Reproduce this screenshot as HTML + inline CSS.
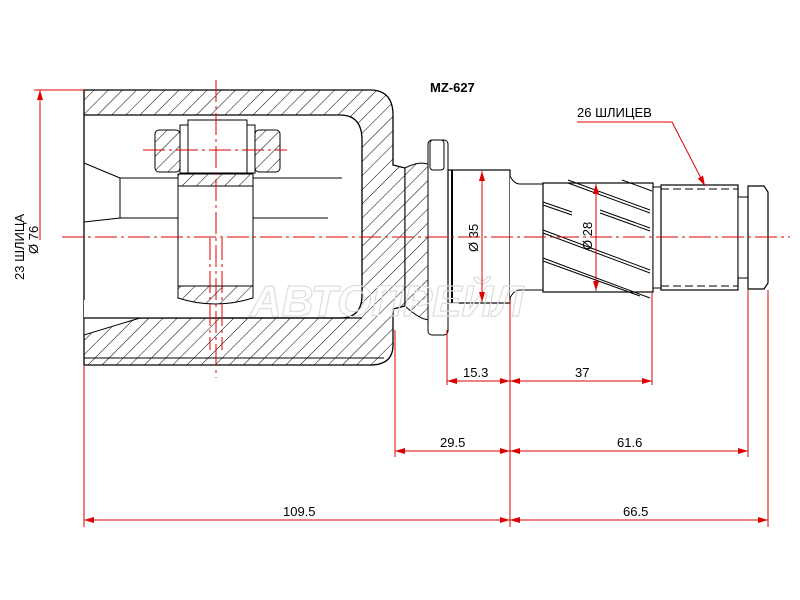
<!DOCTYPE html>
<html><head><meta charset="utf-8"><style>
html,body{margin:0;padding:0;background:#fff;}
svg{display:block;}
text{font-family:"Liberation Sans","DejaVu Sans",sans-serif;}
</style></head><body>
<svg width="800" height="600" viewBox="0 0 800 600" xmlns="http://www.w3.org/2000/svg">
<defs>
<pattern id="h" width="10" height="10" patternUnits="userSpaceOnUse" patternTransform="rotate(45)">
<rect width="10" height="10" fill="#fff"/><line x1="0" y1="0" x2="0" y2="10" stroke="#000" stroke-width="1"/>
</pattern>
<marker id="a" viewBox="0 0 10 6" refX="10" refY="3" markerWidth="10" markerHeight="6" orient="auto-start-reverse" markerUnits="userSpaceOnUse">
<path d="M0,0 L10,3 L0,6 z" fill="#d00"/></marker>
</defs>

<!-- housing -->
<path fill-rule="evenodd" fill="url(#h)" stroke="#000" stroke-width="1.3"
 d="M84,90 L370,90 Q393,90 393,115 L393,165 L405,168 L405,306 L393,309 L393,345 Q393,365 370,365 L84,365 Z
    M84,115 L340,115 Q362,115 362,140 L362,295 Q362,318 340,318 L84,318 Z"/>
<path d="M84,318 L220,318 L220,300 L84,300 Z" fill="#fff" stroke="none"/>
<path d="M84,318 L140,318 L84,335 Z" fill="#fff" stroke="#000" stroke-width="1"/>
<line x1="84" y1="318" x2="362" y2="318" stroke="#000" stroke-width="1.2"/>
<!-- inner funnel -->
<path d="M84,163 L120,178 L120,218 L84,222" fill="none" stroke="#000"/>
<line x1="120" y1="178" x2="342" y2="178" stroke="#000"/>
<line x1="120" y1="218" x2="328" y2="218" stroke="#000"/>
<line x1="84" y1="358" x2="384" y2="358" stroke="#000"/>
<!-- roller -->
<rect x="178" y="174" width="75" height="12" fill="url(#h)" stroke="#000"/>
<rect x="178" y="186" width="75" height="100" fill="#fff" stroke="#000"/>
<path d="M178,286 L253,286 L253,298 Q215,310 178,298 Z" fill="url(#h)" stroke="#000"/>
<rect x="155" y="130" width="25" height="42" rx="4" fill="url(#h)" stroke="#000"/>
<rect x="255" y="130" width="25" height="42" rx="4" fill="url(#h)" stroke="#000"/>
<rect x="180" y="125" width="8" height="48" fill="#fff" stroke="#000"/>
<rect x="247" y="125" width="8" height="48" fill="#fff" stroke="#000"/>
<rect x="188" y="120" width="59" height="53" fill="#fff" stroke="#000"/>
<!-- neck / flange -->
<path d="M405,168 Q420,160 430,165 L430,320 Q420,320 405,306 Z" fill="url(#h)" stroke="#000"/>
<rect x="428" y="140" width="20" height="195" rx="4" fill="#fff" stroke="#000"/>
<rect x="430" y="140" width="14" height="30" rx="3" fill="#fff" stroke="#000"/>
<rect x="448" y="170" width="62" height="133" fill="#fff" stroke="#000" stroke-width="1.2"/>
<line x1="452" y1="170" x2="452" y2="303" stroke="#000" stroke-width="2"/>
<path d="M510,176 Q514,184 520,184 L543,184 L543,290 L520,290 Q514,290 510,298" fill="#fff" stroke="#000"/>
<!-- helical spline -->
<rect x="543" y="183" width="110" height="109" fill="#fff" stroke="#000" stroke-width="1.2"/>
<g stroke="#000" stroke-width="1">
<line x1="568" y1="180" x2="650" y2="210"/><line x1="568" y1="183" x2="650" y2="213"/>
<line x1="543" y1="202" x2="572" y2="212"/><line x1="543" y1="205" x2="572" y2="215"/>
<line x1="543" y1="230" x2="650" y2="270"/><line x1="543" y1="233" x2="650" y2="273"/>
<line x1="543" y1="258" x2="650" y2="298"/><line x1="543" y1="261" x2="640" y2="296"/>
<line x1="600" y1="210" x2="650" y2="228"/><line x1="600" y1="213" x2="650" y2="231"/>
<line x1="622" y1="180" x2="652" y2="191"/>
</g>
<rect x="653" y="187" width="8" height="101" fill="#fff" stroke="#000"/>
<rect x="661" y="185" width="77" height="105" fill="#fff" stroke="#000" stroke-width="1.2"/>
<line x1="661" y1="189" x2="738" y2="189" stroke="#000" stroke-dasharray="8 4"/>
<line x1="661" y1="286" x2="738" y2="286" stroke="#000" stroke-dasharray="8 4"/>
<rect x="738" y="197" width="10" height="81" fill="#fff" stroke="#000"/>
<path d="M748,186 L764,186 L768,192 L768,283 L764,289 L748,289 Z" fill="#fff" stroke="#000" stroke-width="1.2"/>
<!-- watermark -->
<text x="250" y="316" font-size="44" font-style="italic" font-weight="bold" fill="none" stroke="#ddd" stroke-width="1.2">АВТОПРЕЙЛ</text>

<!-- centerlines -->
<g stroke="#d00" stroke-width="1" stroke-dasharray="22 4 3 4" fill="none">
<line x1="62" y1="237" x2="790" y2="237"/>
<line x1="216" y1="80" x2="216" y2="378"/>
<line x1="143" y1="150" x2="287" y2="150"/>
<line x1="210" y1="238" x2="210" y2="350"/>
<line x1="222" y1="238" x2="222" y2="350"/>
</g>
<!-- dimensions -->
<g stroke="#d00" stroke-width="1" fill="none">
<line x1="34" y1="90" x2="84" y2="90"/>
<line x1="40" y1="90" x2="40" y2="240" marker-start="url(#a)"/>
<line x1="84" y1="365" x2="84" y2="527"/>
<line x1="395" y1="330" x2="395" y2="457"/>
<line x1="447" y1="330" x2="447" y2="385"/>
<line x1="510" y1="300" x2="510" y2="527"/>
<line x1="652" y1="292" x2="652" y2="385"/>
<line x1="748" y1="290" x2="748" y2="457"/>
<line x1="768" y1="290" x2="768" y2="527"/>
<line x1="447" y1="381" x2="510" y2="381" marker-start="url(#a)" marker-end="url(#a)"/>
<line x1="510" y1="381" x2="652" y2="381" marker-start="url(#a)" marker-end="url(#a)"/>
<line x1="395" y1="451" x2="510" y2="451" marker-start="url(#a)" marker-end="url(#a)"/>
<line x1="510" y1="451" x2="748" y2="451" marker-start="url(#a)" marker-end="url(#a)"/>
<line x1="84" y1="520" x2="510" y2="520" marker-start="url(#a)" marker-end="url(#a)"/>
<line x1="510" y1="520" x2="768" y2="520" marker-start="url(#a)" marker-end="url(#a)"/>
<line x1="482" y1="171" x2="482" y2="302" marker-start="url(#a)" marker-end="url(#a)"/>
<line x1="596" y1="184" x2="596" y2="291" marker-start="url(#a)" marker-end="url(#a)"/>
<polyline points="577,122 672,122 705,186" marker-end="url(#a)"/>
</g>
<g fill="#000" font-size="13">
<text x="463" y="377">15.3</text>
<text x="575" y="377">37</text>
<text x="440" y="447">29.5</text>
<text x="617" y="447">61.6</text>
<text x="283" y="516">109.5</text>
<text x="623" y="516">66.5</text>
<text x="577" y="117">26 ШЛИЦЕВ</text>
<text x="430" y="92" font-weight="bold">MZ-627</text>
<text transform="translate(478,252) rotate(-90)">Ø 35</text>
<text transform="translate(592,250) rotate(-90)">Ø 28</text>
<text transform="translate(24,280) rotate(-90)">23 ШЛИЦА</text>
<text transform="translate(38,254) rotate(-90)">Ø 76</text>
</g>
</svg>
</body></html>
